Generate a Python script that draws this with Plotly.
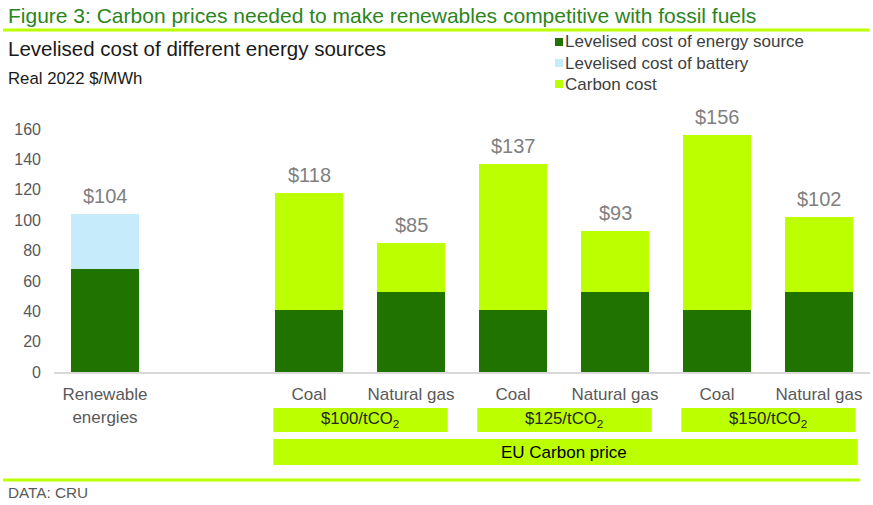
import plotly.graph_objects as go

# data (real 2022 $/MWh)
technologies = ["Renewable energies", "Coal", "Natural gas", "Coal", "Natural gas", "Coal", "Natural gas"]
tick_labels = ["Renewable<br>energies", "Coal", "Natural gas", "Coal", "Natural gas", "Coal", "Natural gas"]
carbon_prices = [None, 100, 100, 125, 125, 150, 150]
energy_cost = [68, 41, 53, 41, 53, 41, 53]
battery_cost = [36, 0, 0, 0, 0, 0, 0]
carbon_cost = [0, 77, 32, 96, 40, 115, 49]
price_groups = [100, 125, 150]

totals = [a + b + c for a, b, c in zip(energy_cost, battery_cost, carbon_cost)]

# category keys, with an empty slot after renewables
keys = [f"{t} {p}" for t, p in zip(technologies, carbon_prices)]
cat_order = [keys[0], "gap"] + keys[1:]
ticktext = [tick_labels[0], " "] + tick_labels[1:]

DARK = "#217300"
BLUE = "#c6ecfc"
LIME = "#bbff00"
GREEN_TXT = "#2b851c"
GREY = "#595959"
FONT = "Liberation Sans"

W, H = 873, 505
L, R, T, B = 54, 3, 114, 133
PW, PH = W - L - R, H - T - B


def fx(p):
    return (p - L) / PW


def fy(p):
    return (H - B - p) / PH


fig = go.Figure()
for name, vals, col in [("Levelised cost of energy source", energy_cost, DARK),
                        ("Levelised cost of battery", battery_cost, BLUE),
                        ("Carbon cost", carbon_cost, LIME)]:
    fig.add_trace(go.Bar(x=keys, y=vals, name=name, marker_color=col,
                         marker_line_width=0, width=0.66, showlegend=False,
                         hovertemplate="%{x}: %{y}<extra>" + name + "</extra>"))

shapes = []
annotations = []

# totals above bars
for k, t in zip(keys, totals):
    annotations.append(dict(x=k, y=t, xref="x", yref="y", text=f"${t}",
                            showarrow=False, yanchor="bottom", yshift=5,
                            font=dict(size=20, color="#7f7f7f")))

# carbon price boxes
for i, p in enumerate(price_groups):
    c = 2.5 + 2 * i
    shapes.append(dict(type="rect", xref="x", yref="paper", x0=c - 0.85, x1=c + 0.86,
                       y0=fy(432), y1=fy(408), fillcolor=LIME, line_width=0, layer="below"))
    annotations.append(dict(x=c, y=fy(420), xref="x", yref="paper", yanchor="middle",
                            text=f"${p}/tCO<sub>2</sub>", showarrow=False,
                            font=dict(size=16.8, color="#262626")))
shapes.append(dict(type="rect", xref="x", yref="paper", x0=1.65, x1=7.38,
                   y0=fy(465), y1=fy(439), fillcolor=LIME, line_width=0, layer="below"))
annotations.append(dict(x=4.5, y=fy(452), xref="x", yref="paper", yanchor="middle",
                        text="EU Carbon price", showarrow=False,
                        font=dict(size=17, color="#000000")))

# rules
shapes.append(dict(type="line", xref="paper", yref="paper", x0=fx(3), x1=fx(869),
                   y0=fy(30), y1=fy(30), line=dict(color=LIME, width=3)))
shapes.append(dict(type="line", xref="paper", yref="paper", x0=fx(3), x1=fx(860),
                   y0=fy(480), y1=fy(480), line=dict(color=LIME, width=3)))

# headings
heads = [("Figure 3: Carbon prices needed to make renewables competitive with fossil fuels",
          15, 21, GREEN_TXT),
         ("Levelised cost of different energy sources", 48, 20.5, "#1a1a1a"),
         ("Real 2022 $/MWh", 78, 16.8, "#1a1a1a"),
         ("DATA: CRU", 492, 15.3, GREY)]
for text, yc, size, col in heads:
    annotations.append(dict(x=fx(6), y=fy(yc), xref="paper", yref="paper",
                            xanchor="left", yanchor="middle", text=text, showarrow=False,
                            font=dict(size=size, color=col)))

# legend
for j, (name, col) in enumerate([("Levelised cost of energy source", DARK),
                                 ("Levelised cost of battery", BLUE),
                                 ("Carbon cost", LIME)]):
    yc = 42 + 21 * j
    shapes.append(dict(type="rect", xref="paper", yref="paper", x0=fx(555), x1=fx(563),
                       y0=fy(yc + 4), y1=fy(yc - 4), fillcolor=col, line_width=0))
    annotations.append(dict(x=fx(563), y=fy(yc), xref="paper", yref="paper",
                            xanchor="left", yanchor="middle", text=name, showarrow=False,
                            font=dict(size=17, color="#404040")))

fig.update_layout(
    width=W, height=H, barmode="stack",
    margin=dict(l=L, r=R, t=T, b=B),
    paper_bgcolor="white", plot_bgcolor="white",
    font=dict(family=FONT, color=GREY),
    shapes=shapes, annotations=annotations,
)
fig.update_xaxes(categoryorder="array", categoryarray=cat_order, tickvals=cat_order,
                 ticktext=ticktext, range=[-0.5, 7.5], showline=True, linecolor="#d9d9d9",
                 linewidth=2, showgrid=False, ticks="", ticklabelstandoff=6,
                 tickfont=dict(size=17, color=GREY))
fig.update_yaxes(range=[0, 170], tickvals=list(range(0, 161, 20)), showgrid=False,
                 zeroline=False, showline=False, ticks="", ticklabelstandoff=12,
                 tickfont=dict(size=16, color=GREY))

fig.write_html("out.html", config={"displayModeBar": False},
               post_script="document.body.style.margin='0px';")
